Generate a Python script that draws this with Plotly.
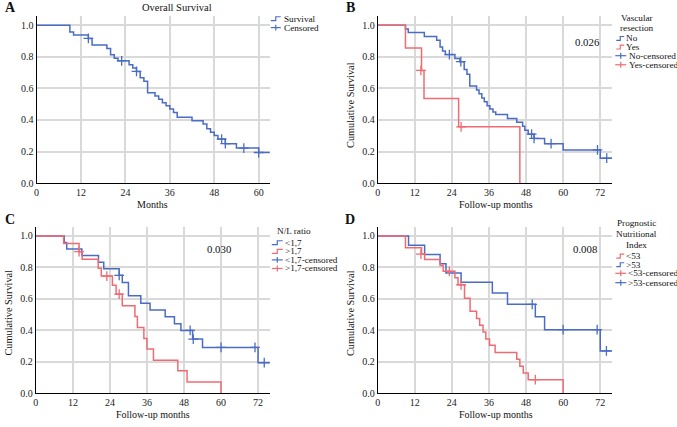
import plotly.graph_objects as go

W, H = 677, 427
BLUE = '#4b6cc6'
RED = '#ef6b73'
FONT = 'Times New Roman, Liberation Serif, serif'

# ---- data (months, cumulative survival) ----
# A: overall survival
a_t = [0, 9, 10, 14, 15, 19, 20, 21, 22, 25, 26, 27, 28, 29, 30, 32, 33, 34, 35, 36, 37, 38,
       42, 45, 46, 47, 48, 49, 51, 54, 60, 63]
a_s = [1.0, 0.958, 0.938, 0.917, 0.875, 0.854, 0.813, 0.792, 0.775, 0.75, 0.729, 0.708, 0.667,
       0.646, 0.573, 0.552, 0.531, 0.51, 0.49, 0.469, 0.448, 0.417, 0.396, 0.375, 0.344, 0.323,
       0.302, 0.279, 0.25, 0.222, 0.194, 0.194]
a_ct = [14, 23, 27, 50, 51, 56, 60]
a_cs = [0.917, 0.775, 0.708, 0.279, 0.25, 0.222, 0.194]

# B: vascular resection  No / Yes
b_no_t = [0, 9, 9.9, 15.1, 19.1, 20.2, 21, 21.9, 25, 26.6, 28, 28.9, 29.8, 32, 32.8, 33.7, 34.5,
          35.4, 36.3, 37.3, 38.2, 42, 45, 46.9, 47.6, 48.7, 50.6, 54, 60, 72, 76]
b_no_s = [1.0, 0.977, 0.954, 0.929, 0.905, 0.862, 0.838, 0.815, 0.79, 0.77, 0.72, 0.69, 0.615,
          0.59, 0.567, 0.54, 0.515, 0.49, 0.47, 0.45, 0.435, 0.41, 0.385, 0.36, 0.335, 0.31,
          0.283, 0.25, 0.21, 0.158, 0.158]
b_no_ct = [23.2, 26.9, 49.8, 50.6, 56.1, 71.1, 74.1]
b_no_cs = [0.815, 0.77, 0.31, 0.283, 0.25, 0.21, 0.158]
b_yes_t = [0, 9, 14.2, 15, 26.2, 46]
b_yes_s = [1.0, 0.857, 0.714, 0.536, 0.357, 0.0]
b_yes_ct = [14, 27]
b_yes_cs = [0.714, 0.357]

# C: N/L ratio  <1,7 / >1,7
c_lo_t = [0, 9.2, 10, 14.9, 20.3, 22, 27, 28, 30, 34, 37, 41.9, 44.9, 47, 50.8, 54, 72, 75.8]
c_lo_s = [1.0, 0.958, 0.917, 0.875, 0.833, 0.792, 0.75, 0.705, 0.62, 0.573, 0.53, 0.486, 0.443,
          0.4, 0.345, 0.292, 0.195, 0.195]
c_lo_ct = [27, 50, 51, 60, 71, 74]
c_lo_cs = [0.75, 0.4, 0.345, 0.292, 0.292, 0.195]
c_hi_t = [0, 9, 14, 15, 20.2, 21.2, 24.8, 26, 28, 32.1, 32.9, 35, 36, 38.1, 46, 49, 60]
c_hi_s = [1.0, 0.952, 0.9, 0.852, 0.795, 0.745, 0.687, 0.63, 0.557, 0.488, 0.418, 0.349, 0.282,
          0.211, 0.144, 0.073, 0.0]
c_hi_ct = [14, 23, 27]
c_hi_cs = [0.9, 0.745, 0.63]

# D: prognostic nutritional index  <53 / >53
d_lo_t = [0, 9, 14.2, 15.2, 20.2, 21.2, 25, 26, 28.1, 29.9, 32, 33, 34.1, 35, 36.2, 38, 45, 46,
          47.1, 48.7, 60]
d_lo_s = [1.0, 0.925, 0.885, 0.85, 0.812, 0.775, 0.735, 0.69, 0.605, 0.522, 0.476, 0.433, 0.39,
          0.346, 0.305, 0.26, 0.217, 0.173, 0.13, 0.087, 0.0]
d_lo_ct = [14, 23.2, 27, 51]
d_lo_cs = [0.885, 0.775, 0.69, 0.087]
d_hi_t = [0, 10, 15.2, 20.2, 22.1, 27, 37.1, 42, 51, 54, 72, 76]
d_hi_s = [1.0, 0.941, 0.882, 0.824, 0.765, 0.706, 0.637, 0.566, 0.486, 0.405, 0.27, 0.27]
d_hi_ct = [50, 60, 71, 74]
d_hi_cs = [0.566, 0.405, 0.405, 0.27]

x_ticks_a = [0, 12, 24, 36, 48, 60]
x_ticks = [0, 12, 24, 36, 48, 60, 72]
y_ticks = [0.0, 0.2, 0.4, 0.6, 0.8, 1.0]


def px(x):  # pixel -> paper
    return x / W


def py(y):
    return 1 - y / H


fig = go.Figure()

# panel boxes in pixels: left, right, top, y=1.0 line, bottom, x max
panels = {
    '':  (33.7, 268.3, 16.7, 25.7, 185.7, 63.1, x_ticks_a),
    '2': (376.3, 611.7, 16.7, 25.7, 185.7, 75.8, x_ticks),
    '3': (33.0, 268.3, 230.7, 239.3, 399.0, 75.9, x_ticks),
    '4': (376.3, 611.7, 230.7, 239.3, 399.0, 75.8, x_ticks),
}

curves = [
    ('', a_t, a_s, a_ct, a_cs, BLUE),
    ('2', b_no_t, b_no_s, b_no_ct, b_no_cs, BLUE),
    ('2', b_yes_t, b_yes_s, b_yes_ct, b_yes_cs, RED),
    ('3', c_lo_t, c_lo_s, c_lo_ct, c_lo_cs, BLUE),
    ('3', c_hi_t, c_hi_s, c_hi_ct, c_hi_cs, RED),
    ('4', d_hi_t, d_hi_s, d_hi_ct, d_hi_cs, BLUE),
    ('4', d_lo_t, d_lo_s, d_lo_ct, d_lo_cs, RED),
]
for k, t, s, ct, cs, col in curves:
    fig.add_scatter(x=t, y=s, mode='lines', line=dict(color=col, width=1.5, shape='hv'),
                    xaxis='x' + k, yaxis='y' + k, showlegend=False, hoverinfo='skip')
    fig.add_scatter(x=ct, y=cs, mode='markers',
                    marker=dict(symbol='cross-thin', size=7, line=dict(color=col, width=1.3)),
                    xaxis='x' + k, yaxis='y' + k, showlegend=False, hoverinfo='skip')

axcommon = dict(showgrid=True, gridcolor='#d9d9d9', gridwidth=2, showline=True,
                linecolor='black', linewidth=1, ticks='', zeroline=False,
                tickfont=dict(family=FONT, size=10, color='#222'))
for k, (l, r, t, y1, b, xmax, xt) in panels.items():
    ymax = (b - t) / (b - y1)
    fig.update_layout({
        'xaxis' + k: dict(axcommon, domain=[px(l), px(r)], range=[0, xmax], tickvals=xt,
                          anchor='y' + k),
        'yaxis' + k: dict(axcommon, domain=[py(b), py(t)], range=[0, ymax], tickvals=y_ticks,
                          tickformat='.1f', anchor='x' + k),
    })

annots = []
shapes = []


def text(x, y, s, size=10.3, anchor='center', bold=False, angle=0):
    annots.append(dict(x=px(x), y=py(y), xref='paper', yref='paper',
                       text=f'<b>{s}</b>' if bold else s, borderpad=0,
                       showarrow=False, xanchor=anchor, yanchor='middle', textangle=angle,
                       font=dict(family=FONT, size=size, color='#111')))


# panel letters, title, axis titles, p-values
text(7.5, 7.5, 'A', 14, bold=True)
text(349, 7.5, 'B', 14, bold=True)
text(7.5, 223, 'C', 14, bold=True)
text(349, 223, 'D', 14, bold=True)
text(175, 8, 'Overall Survival', 10.5)
text(150, 207.5, 'Months', 10)
text(495, 207.5, 'Follow-up months', 10)
text(150.7, 420.5, 'Follow-up months', 10)
text(495, 420.5, 'Follow-up months', 10)
text(349, 106, 'Cumulative Survival', angle=-90)
text(6, 317, 'Cumulative Survival', angle=-90)
text(349, 317, 'Cumulative Survival', angle=-90)
text(586.7, 43, '0.026', 10.8)
text(216.7, 252.3, '0.030', 10.8)
text(584.3, 252.7, '0.008', 10.8)


def step_glyph(x0, x1, y, col):
    xm = (x0 + x1) / 2
    shapes.append(dict(type='path', xref='paper', yref='paper',
                       path=f'M {px(x0)},{py(y + 2)} L {px(xm)},{py(y + 2)} L {px(xm)},{py(y - 2)} '
                            f'L {px(x1)},{py(y - 2)}',
                       line=dict(color=col, width=1.2)))


def plus_glyph(x0, x1, y, col):
    xm = (x0 + x1) / 2
    shapes.append(dict(type='line', xref='paper', yref='paper', x0=px(x0), x1=px(x1),
                       y0=py(y), y1=py(y), line=dict(color=col, width=1.2)))
    shapes.append(dict(type='line', xref='paper', yref='paper', x0=px(xm), x1=px(xm),
                       y0=py(y - 3), y1=py(y + 3), line=dict(color=col, width=1.2)))


LG = 9.2  # legend font size

step_glyph(269, 279, 19, BLUE); text(281, 19, 'Survival', LG, anchor='left')
plus_glyph(269, 279, 28, BLUE); text(281, 28, 'Censored', LG, anchor='left')

text(637, 18, 'Vascular', LG); text(637, 28, 'resection', LG)
for y, g, col, lab in [(39, step_glyph, BLUE, 'No'), (47.7, step_glyph, RED, 'Yes'),
                       (56.5, plus_glyph, BLUE, 'No-censored'), (65.7, plus_glyph, RED, 'Yes-censored')]:
    if g is step_glyph:
        g(616, 624, y, col); text(624.5, y, lab, LG, anchor='left')
    else:
        g(615, 626, y, col); text(628, y, lab, LG, anchor='left')

text(292.3, 234, 'N/L ratio', LG)
for y, g, col, lab in [(246.2, step_glyph, BLUE, '&lt;1,7'), (254.9, step_glyph, RED, '&gt;1,7'),
                       (263.6, plus_glyph, BLUE, '&lt;1,7-censored'),
                       (272.3, plus_glyph, RED, '&gt;1,7-censored')]:
    g(270, 281, y, col); text(282, y, lab, LG, anchor='left')

text(636.7, 226, 'Prognostic', LG); text(636.7, 237.3, 'Nutritional', LG)
text(636.7, 248.5, 'Index', LG)
for y, g, col, lab in [(259.8, step_glyph, RED, '&lt;53'), (268.5, step_glyph, BLUE, '&gt;53'),
                       (277.2, plus_glyph, RED, '&lt;53-censored'),
                       (286.7, plus_glyph, BLUE, '&gt;53-censored')]:
    if g is step_glyph:
        g(616, 624, y, col); text(624.5, y, lab, LG, anchor='left')
    else:
        g(615, 626, y, col); text(627, y, lab, LG, anchor='left')

fig.update_layout(width=W, height=H, margin=dict(l=0, r=0, t=0, b=0),
                  paper_bgcolor='white', plot_bgcolor='white',
                  annotations=annots, shapes=shapes, showlegend=False)

# page body has a default 8px margin; remove it so the figure sits at the window's corner
fig.write_html('out.html', config={'displayModeBar': False},
               post_script="document.body.style.margin='0';")
